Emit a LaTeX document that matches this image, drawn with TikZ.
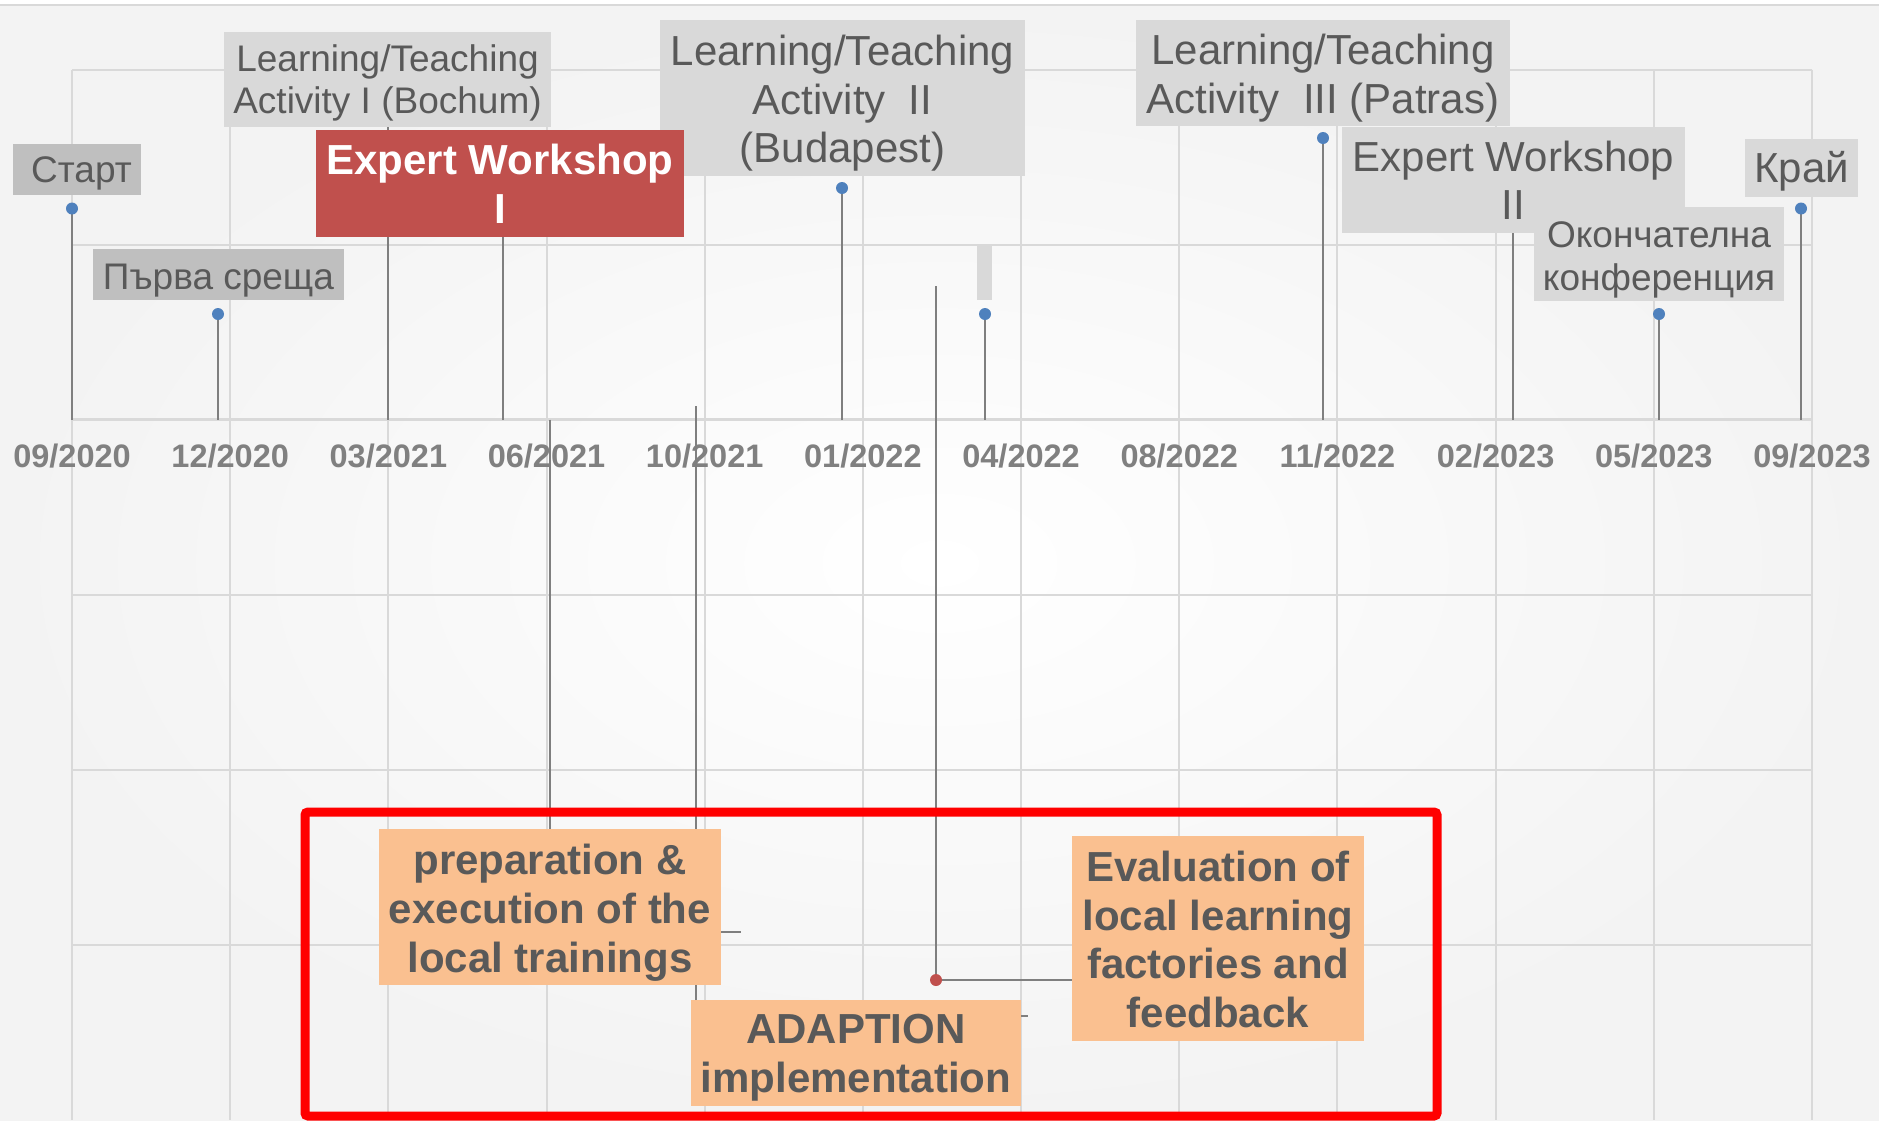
\documentclass[tikz,border=0pt]{standalone}
\usepackage{fontspec}
\setmainfont{Liberation Sans}
\definecolor{gridc}{HTML}{D9D9D9}
\definecolor{stemc}{HTML}{7F7F7F}
\definecolor{txtc}{HTML}{595959}
\definecolor{axc}{HTML}{808080}
\definecolor{boxa}{HTML}{D9D9D9}
\definecolor{boxb}{HTML}{BFBFBF}
\definecolor{redbox}{HTML}{C0504D}
\definecolor{orangebox}{HTML}{FAC090}
\definecolor{markc}{HTML}{4F81BD}
\definecolor{bgedge}{HTML}{F3F3F3}
\definecolor{frame}{HTML}{FF0000}
\tikzset{
  gridline/.style={draw=gridc, line width=1pt},
  stemline/.style={draw=stemc, line width=1.15pt},
  leaderthin/.style={draw=stemc, line width=0.8pt},
  leaderthick/.style={draw=stemc, line width=1.05pt},
  lbox/.style={inner sep=0pt},
  ltxt/.style={inner sep=0pt, align=center, text=txtc},
  smallf/.style={font=\fontsize{18.5}{21.3}\selectfont},
  bigf/.style={font=\fontsize{21}{24.2}\selectfont},
  boldf/.style={font=\fontsize{21}{24.4}\selectfont\bfseries},
  axlabel/.style={inner sep=0pt, text=axc, font=\fontsize{16.25}{18}\selectfont\bfseries},
  marker/.style={circle, fill=markc, inner sep=0pt, minimum size=6pt},
  reddot/.style={circle, fill=redbox, inner sep=0pt, minimum size=6pt},
  redframe/.style={draw=frame, line width=4.5pt, rounded corners=1.5pt}
}
\begin{document}
\begin{tikzpicture}[x=0.5pt,y=-0.5pt]
\useasboundingbox (0,0) rectangle (1879,1120);
\fill[white] (0,0) rectangle (1879,1120);
\shade[inner color=white, outer color=bgedge] (0,6) rectangle (1879,1120);
\draw[gridc, line width=1pt] (0,5) -- (1879,5);

% grid
\foreach \i in {0,...,11} { \draw[gridline] ({72+158.18*\i},69.5) -- ({72+158.18*\i},1120); }
\foreach \yy in {69.5,244.5,594.5,769.5,944.5} { \draw[gridline] (72,\yy) -- (1812,\yy); }
\draw[gridc, line width=1.6pt] (72,419.5) -- (1812,419.5);

% axis labels
\node[axlabel] (d1) at (72,456.5) {09/2020};
\node[axlabel] (d2) at (230.18,456.5) {12/2020};
\node[axlabel] (d3) at (388.36,456.5) {03/2021};
\node[axlabel] (d4) at (546.54,456.5) {06/2021};
\node[axlabel] (d5) at (704.72,456.5) {10/2021};
\node[axlabel] (d6) at (862.9,456.5) {01/2022};
\node[axlabel] (d7) at (1021.08,456.5) {04/2022};
\node[axlabel] (d8) at (1179.26,456.5) {08/2022};
\node[axlabel] (d9) at (1337.44,456.5) {11/2022};
\node[axlabel] (d10) at (1495.62,456.5) {02/2023};
\node[axlabel] (d11) at (1653.8,456.5) {05/2023};
\node[axlabel] (d12) at (1812,456.5) {09/2023};

% marker positions and axis feet
\coordinate (p1) at (72,208.5);   \coordinate (a1) at (72,419.5);
\coordinate (p2) at (218,314);    \coordinate (a2) at (218,419.5);
\coordinate (p3) at (388,127);    \coordinate (a3) at (388,419.5);
\coordinate (p4) at (503,200);    \coordinate (a4) at (503,419.5);
\coordinate (p5) at (842,188);    \coordinate (a5) at (842,419.5);
\coordinate (p6) at (985,314);    \coordinate (a6) at (985,419.5);
\coordinate (p7) at (1323,138);   \coordinate (a7) at (1323,419.5);
\coordinate (p8) at (1513,200);   \coordinate (a8) at (1513,419.5);
\coordinate (p9) at (1659,314);   \coordinate (a9) at (1659,419.5);
\coordinate (p10) at (1801,208.5);\coordinate (a10) at (1801,419.5);
\foreach \k in {1,...,10} { \draw[stemline] (p\k) -- (a\k); }

% lower leader lines
\coordinate (c1a) at (550,419.5); \coordinate (c1b) at (550,829);
\coordinate (c2a) at (696,406);   \coordinate (c2b) at (696,1000);
\coordinate (c3a) at (936,286);   \coordinate (c3b) at (936,980); \coordinate (c3c) at (1072,980);
\draw[leaderthin] (c1a) -- (c1b);
\draw[leaderthin] (c2a) -- (c2b);
\draw[leaderthick] (c3a) -- (c3b) -- (c3c);

% upper label boxes
\node[lbox, fill=boxb, minimum width=64pt, minimum height=25.5pt] (start) at (77,169.5) {};
\node[ltxt, smallf] (startt) at (81.5,173) {Старт};
\node[lbox, fill=boxb, minimum width=125.5pt, minimum height=25.5pt] (first) at (218.5,274.5) {};
\node[ltxt, smallf] (firstt) at (218.5,280.5) {Първа среща};
\node[lbox, fill=boxa, minimum width=163.5pt, minimum height=47.5pt] (bochum) at (387.5,79.5) {};
\node[ltxt, smallf] (bochumt) at (387.5,83) {Learning/Teaching\\Activity I (Bochum)};
\node[lbox, fill=boxa, minimum width=182.5pt, minimum height=78pt] (budapest) at (842.5,98) {};
\node[ltxt, bigf] (budapestt) at (842.5,103.5) {Learning/Teaching\\Activity\ \ II\\(Budapest)};
\node[lbox, fill=redbox, minimum width=184pt, minimum height=53.5pt] (ew1) at (500,183.5) {};
\node[ltxt, boldf, text=white] (ew1t) at (500,183.5) {Expert Workshop\\I};
\node[lbox, fill=boxa, minimum width=7.5pt, minimum height=27.5pt] (empty) at (984.5,272.5) {};
\node[lbox, fill=boxa, minimum width=187pt, minimum height=53pt] (patras) at (1323,73) {};
\node[ltxt, bigf] (patrast) at (1323,78) {Learning/Teaching\\Activity\ \ III (Patras)};
\node[lbox, fill=boxa, minimum width=171.5pt, minimum height=53pt] (ew2) at (1513.5,180) {};
\node[ltxt, bigf] (ew2t) at (1513.5,180) {Expert Workshop\\II};
\node[lbox, fill=boxa, minimum width=125pt, minimum height=47pt] (final) at (1659,254) {};
\node[ltxt, smallf] (finalt) at (1659,260) {Окончателна\\конференция};
\node[lbox, fill=boxa, minimum width=56.5pt, minimum height=29pt] (kraj) at (1801.5,168) {};
\node[ltxt, bigf] (krajt) at (1801.5,171.5) {Край};

% markers
\foreach \k in {1,2,5,6,7,9,10} { \node[marker] (m\k) at (p\k) {}; }

% red frame
\draw[redframe] (305,812) rectangle (1437,1116);

% lower boxes
\node[lbox, fill=orangebox, minimum width=171pt, minimum height=78pt] (prep) at (550,907) {};
\node[ltxt, boldf] (prept) at (550,913) {preparation \&\\execution of the\\local trainings};
\node[lbox, fill=orangebox, minimum width=165pt, minimum height=53pt] (adapt) at (856,1053) {};
\node[ltxt, boldf] (adaptt) at (856,1058) {ADAPTION\\implementation};
\node[lbox, fill=orangebox, minimum width=146pt, minimum height=102.5pt] (eval) at (1218,938.5) {};
\node[ltxt, boldf] (evalt) at (1218,939.5) {Evaluation of\\local learning\\factories and\\feedback};

% stubs
\coordinate (s1) at (741,932);
\draw[leaderthick] (prep.east |- s1) -- (s1);
\coordinate (s2) at (1028,1016);
\draw[leaderthick] (adapt.east |- s2) -- (s2);

\node[reddot] (rd) at (c3b) {};
\end{tikzpicture}
\end{document}
